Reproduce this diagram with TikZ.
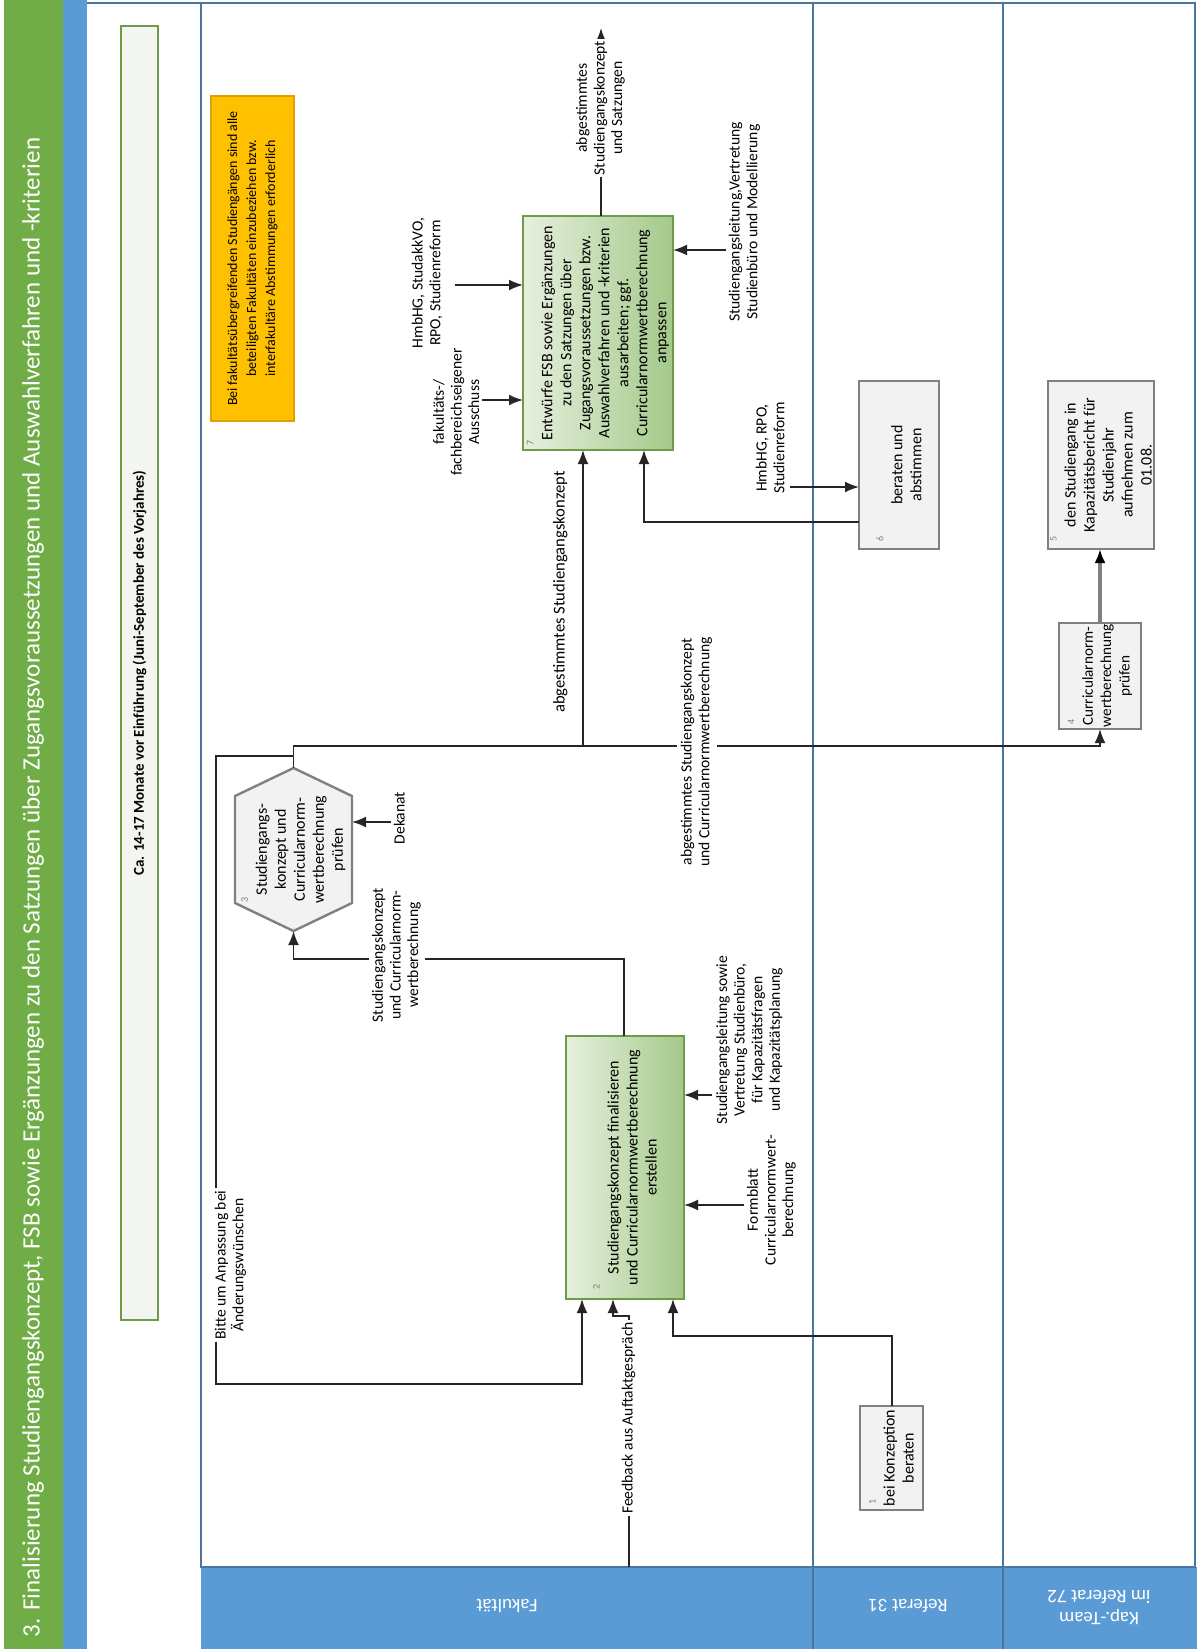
\documentclass[tikz,border=0pt]{standalone}
\usepackage{fontspec}
\setmainfont{Carlito}
\usepackage{graphicx}
\usetikzlibrary{arrows.meta,calc}
\definecolor{titlegreen}{HTML}{70AD47}
\definecolor{barblue}{HTML}{5B9BD5}
\definecolor{lanecol}{HTML}{4A76A0}
\definecolor{timefill}{HTML}{F3F6F0}
\definecolor{timeborder}{HTML}{6E9B48}
\definecolor{notefill}{HTML}{FFC000}
\definecolor{noteborder}{HTML}{E0A000}
\definecolor{glight}{HTML}{E6F0DE}
\definecolor{gdark}{HTML}{A4C98A}
\definecolor{gborder}{HTML}{6E9B48}
\definecolor{boxfill}{HTML}{F2F2F2}
\definecolor{boxborder}{HTML}{808080}
\definecolor{linecol}{HTML}{262626}
\newcommand{\rtx}[2]{\rotatebox{90}{\parbox{#1}{\centering #2}}}
\newcommand{\rnum}[3]{\rotatebox{90}{\parbox{#1}{\hspace*{2pt}{\fontsize{5}{6}\selectfont\color{boxborder}#2}\par\centering #3\par}}}
\newcommand{\rl}[1]{\rotatebox{90}{\begin{tabular}{@{}c@{}}#1\end{tabular}}}
\begin{document}
\begin{tikzpicture}[x=0.5pt, y=-0.5pt,
  every node/.style={inner sep=0pt, outer sep=0pt, font=\fontsize{8}{9.5}\selectfont},
  arr/.style={draw=linecol, line width=0.9pt, -{Latex[length=7pt,width=5.5pt]}},
  arrg/.style={draw=boxborder, line width=1.6pt, -{Latex[length=7pt,width=5.5pt,color=black]}},
  greenbox/.style={draw=gborder, line width=1.2pt, left color=glight, right color=gdark},
  graybox/.style={draw=boxborder, line width=1.2pt, fill=boxfill},
  lbl/.style={font=\fontsize{7.8}{8.8}\selectfont, inner sep=1pt},
  lblw/.style={lbl, fill=white},
  lanelbl/.style={text=white, font=\fontsize{9.5}{11}\selectfont}]
\useasboundingbox (0,0) rectangle (1197,1649);
\fill[white] (0,0) rectangle (1197,1649);
% title and side bars
\fill[titlegreen] (4,0) rectangle (63,1649);
\fill[barblue] (63,0) rectangle (87,1649);
\node[anchor=south, text=white, font=\fontsize{12.5}{15}\selectfont] (title) at (33,1637)
  {\rotatebox{90}{3. Finalisierung Studiengangskonzept, FSB sowie Ergänzungen zu den Satzungen über Zugangsvoraussetzungen und Auswahlverfahren und -kriterien}};
% time box
\draw[lanecol, line width=0.6pt] (87,3) -- (201,3);
\node[draw=timeborder, line width=1.2pt, fill=timefill, minimum width=18.5pt, minimum height=647pt,
  font=\bfseries\fontsize{7.5}{8.5}\selectfont] (tbox) at (139.5,673)
  {\rotatebox{90}{Ca. 14-17 Monate vor Einführung (Juni-September des Vorjahres)}};
% lanes
\fill[barblue] (201,1567) rectangle (1197,1649);
\draw[lanecol, line width=1.2pt] (201,3) rectangle (1195,1567);
\draw[lanecol, line width=1.2pt] (813,3) -- (813,1649);
\draw[lanecol, line width=1.2pt] (1003,3) -- (1003,1649);
\node[lanelbl] (lfak) at (507,1606) {\rotatebox{180}{Fakultät}};
\node[lanelbl] (lref) at (908,1606) {\rotatebox{180}{Referat 31}};
\node[lanelbl] (lkap) at (1099,1606) {\rotatebox{180}{\begin{tabular}{@{}c@{}}Kap.-Team\\im Referat 72\end{tabular}}};
% note
\node[fill=notefill, draw=noteborder, line width=1pt, minimum width=41.5pt, minimum height=162.5pt] (note) at (252.5,258.5)
  {\rtx{158pt}{\fontsize{7}{9.5}\selectfont Bei fakultätsübergreifenden Studiengängen sind alle\\beteiligten Fakultäten einzubeziehen bzw.\\interfakultäre Abstimmungen erforderlich}};
% process boxes
\node[greenbox, minimum width=75pt, minimum height=117pt] (n7) at (598,333)
  {\rnum{116pt}{7}{Entwürfe FSB sowie Ergänzungen\\zu den Satzungen über\\Zugangsvoraussetzungen bzw.\\Auswahlverfahren und -kriterien\\ausarbeiten; ggf.\\Curricularnormwertberechnung\\anpassen}};
\node[greenbox, minimum width=59pt, minimum height=131.5pt] (n2) at (625,1167.5)
  {\rnum{126pt}{2}{Studiengangskonzept finalisieren\\und Curricularnormwertberechnung\\erstellen}};
\node[graybox, minimum width=40pt, minimum height=84pt] (n6) at (899,465)
  {\rnum{80pt}{6}{beraten und\\abstimmen}};
\node[graybox, minimum width=53pt, minimum height=84pt] (n5) at (1101,465)
  {\rnum{80pt}{5}{den Studiengang in\\Kapazitätsbericht für\\Studienjahr\\aufnehmen zum\\01.08.}};
\node[graybox, minimum width=41pt, minimum height=53pt, font=\fontsize{7.6}{9.2}\selectfont] (n4) at (1100,676)
  {\rnum{52pt}{4}{Curricularnorm-\\wertberechnung\\prüfen}};
\node[graybox, minimum width=31.5pt, minimum height=52pt] (n1) at (891.5,1458)
  {\rnum{50pt}{1}{bei Konzeption\\beraten}};
\draw[graybox] (293.5,768) -- (352,796) -- (352,903) -- (293.5,931) -- (235,903) -- (235,796) -- cycle;
\node[minimum width=58.5pt, minimum height=81.5pt] (h3) at (293.5,849.5)
  {\rnum{57pt}{3}{Studiengangs-\\konzept und\\Curricularnorm-\\wertberechnung\\prüfen}};
% free ends
\coordinate (fs) at (629,1567);
\coordinate (dk) at (391,822);
\coordinate (c6) at (790,487);
\coordinate (o7) at (601,28);
\coordinate (cf7) at (482,400);
\coordinate (cm7) at (455,285);
\coordinate (cr7) at (726,250);
\coordinate (cs2) at (712,1095);
\coordinate (cfb) at (744,1205);
% connectors
\draw[arr] (fs) -- (629,1316) -- (613,1316) -- (613,0 |- n2.south);
\draw[arr] (n1.north -| 892,0) -- (892,1336) -- (673,1336) -- (673,0 |- n2.south);
\draw[arr] (h3.north) -- (h3.north |- 0,746) -| (n4.south);
\draw[arr] (583,746) -- (583,0 |- n7.south);
\draw[arr] (293.5,756) -- (216,756) -- (216,1384) -| (n2.south -| 582,0);
\draw[arr] (n2.north -| 624,0) -- (624,959) -| (h3.south);
\draw[arr] (dk) -- (dk -| h3.east);
\draw[arrg] (n4.north) -- (n4.north |- n5.south);
\draw[arr] (n6.west |- 0,522) -- (644,522) -- (644,0 |- n7.south);
\draw[arr] (c6) -- (c6 -| n6.west);
\draw[arr] (n7.north -| o7) -- (o7);
\draw[arr] (cf7) -- (cf7 -| n7.west);
\draw[arr] (cm7) -- (cm7 -| n7.west);
\draw[arr] (cr7) -- (cr7 -| n7.east);
\draw[arr] (cs2) -- (cs2 -| n2.east);
\draw[arr] (cfb) -- (cfb -| n2.east);
% labels
\node[lblw] (lout) at (601,108) {\rl{abgestimmtes\\Studiengangskonzept\\und Satzungen}};
\node[lbl] (lfak7) at (458,412) {\rl{fakultäts-/\\fachbereichseigener\\Ausschuss}};
\node[lbl] (lhmb7) at (428,283) {\rl{HmbHG, StudakkVO,\\RPO, Studienreform}};
\node[lbl] (lr7) at (745,222) {\rl{Studiengangsleitung,Vertretung\\Studienbüro und Modellierung}};
\node[lbl] (lhmb6) at (772,448) {\rl{HmbHG, RPO,\\Studienreform}};
\node[lbl, font=\fontsize{8.3}{9.3}\selectfont] (labg7) at (561,592) {\rl{abgestimmtes Studiengangskonzept}};
\node[lblw] (labg4) at (697,752) {\rl{abgestimmtes Studiengangskonzept\\und Curricularnormwertberechnung}};
\node[lbl] (ldek) at (401,818) {\rl{Dekanat}};
\node[lblw] (ls3) at (397,955) {\rl{Studiengangskonzept\\und Curricularnorm-\\wertberechnung}};
\node[lbl] (ls2) at (750,1040) {\rl{Studiengangsleitung sowie\\Vertretung Studienbüro,\\für Kapazitätsfragen\\und Kapazitätsplanung}};
\node[lbl] (lfb) at (772,1200) {\rl{Formblatt\\Curricularnormwert-\\berechnung}};
\node[lblw] (lfeed) at (629,1418) {\rl{Feedback aus Auftaktgespräch}};
\node[lblw] (lbitte) at (231,1265) {\rl{Bitte um Anpassung bei\\Änderungswünschen}};
\end{tikzpicture}
\end{document}
